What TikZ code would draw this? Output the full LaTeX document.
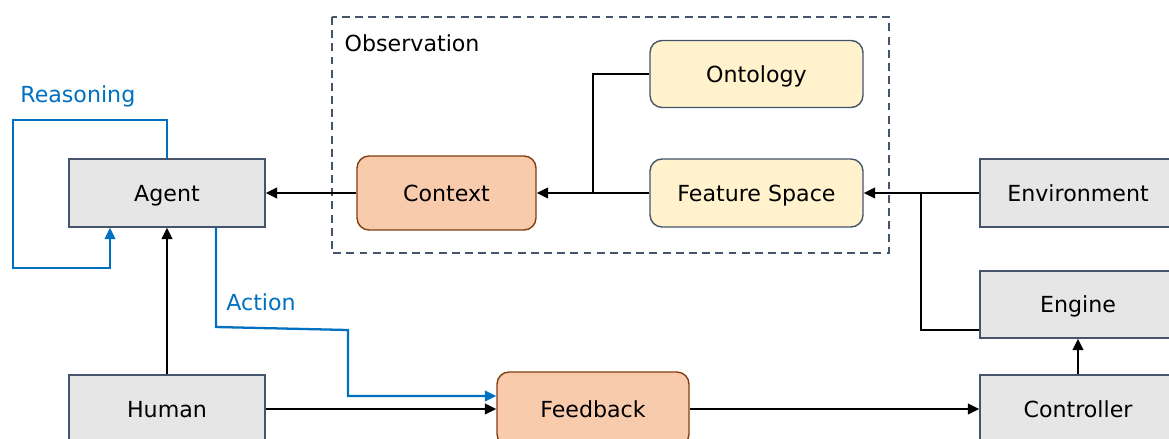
\documentclass[tikz,border=0pt]{standalone}
\usepackage{fontspec}
\setmainfont{DejaVu Sans}
\usetikzlibrary{arrows.meta}
\definecolor{slate}{HTML}{44546A}
\definecolor{boxgray}{HTML}{E7E6E6}
\definecolor{peach}{HTML}{F8CBAD}
\definecolor{peachline}{HTML}{843C0C}
\definecolor{cream}{HTML}{FFF2CC}
\definecolor{flowblue}{HTML}{0070C0}
\tikzset{
  txt/.style={font=\fontsize{12.6}{15}\selectfont},
  base/.style={txt, inner sep=0pt, line width=0.8pt, text height=9.2pt, text depth=0pt},
  graybox/.style={base, draw=slate, fill=boxgray, minimum width=3.92cm, minimum height=1.36cm},
  peachbox/.style={base, draw=peachline, fill=peach, rounded corners=0.24cm},
  creambox/.style={base, draw=slate, fill=cream, rounded corners=0.24cm, minimum width=4.26cm, minimum height=1.34cm},
  tip/.style={-{Triangle[length=6.5pt,width=6pt]}},
  link/.style={line width=1.3pt, tip},
  plain/.style={line width=1.3pt},
  bluelink/.style={line width=1.3pt, draw=flowblue, tip},
  bluelabel/.style={txt, text=flowblue, inner sep=0pt, anchor=west},
}
\begin{document}
\begin{tikzpicture}[x=0.02cm, y=-0.02cm]
\useasboundingbox (0,0) rectangle (1169,439);
\clip (0,0) rectangle (1169,439);

% observation group
\draw[slate, line width=0.9pt, dash pattern=on 4.5pt off 3pt] (332,17) rectangle (889,253);
\node[base, anchor=west] (obs) at (344,43) {Observation};

% boxes
\node[creambox] (onto) at (756.5,74) {Ontology};
\node[creambox, minimum height=1.36cm] (feat) at (756.5,193) {Feature Space};
\node[peachbox, minimum width=3.58cm, minimum height=1.48cm] (ctx) at (446.5,193) {Context};
\node[graybox] (agent) at (167,193) {Agent};
\node[graybox] (env) at (1078,193) {Environment};
\node[graybox, minimum height=1.34cm] (engine) at (1078,304.5) {Engine};
\node[graybox] (ctrl) at (1078,409) {Controller};
\node[graybox] (human) at (167,409) {Human};
\node[peachbox, minimum width=3.84cm, minimum height=1.48cm] (fb) at (593,409) {Feedback};

% observation flow
\draw[link] (ctx.west) -- (agent.east);
\draw[link] (feat.west) -- (ctx.east);
\coordinate (ojoin) at (593,193);
\draw[plain] (onto.west) -| (ojoin);
\draw[link] (env.west) -- (feat.east);
\coordinate (ejoin) at (921,193);
\draw[plain] (engine.west |- 0,330) -| (ejoin);

% control loop
\draw[link] (ctrl.north) -- (engine.south);
\draw[link] (human.east) -- (fb.west);
\draw[link] (fb.east) -- (ctrl.west);
\draw[link] (human.north) -- (agent.south);

% reasoning loop
\coordinate (rtop) at (13,120);
\coordinate (rbot) at (13,268);
\draw[bluelink] (agent.north) |- (rtop) -- (rbot) -| (agent.south -| 110,0);
\node[bluelabel] (reason) at (20,96) {Reasoning};

% action path
\coordinate (a1) at (216,327);
\coordinate (a2) at (348,330);
\draw[bluelink] (agent.south -| a1) -- (a1) -- (a2) |- (fb.west |- 0,396);
\node[bluelabel] (act) at (226,302) {Action};
\end{tikzpicture}
\end{document}
